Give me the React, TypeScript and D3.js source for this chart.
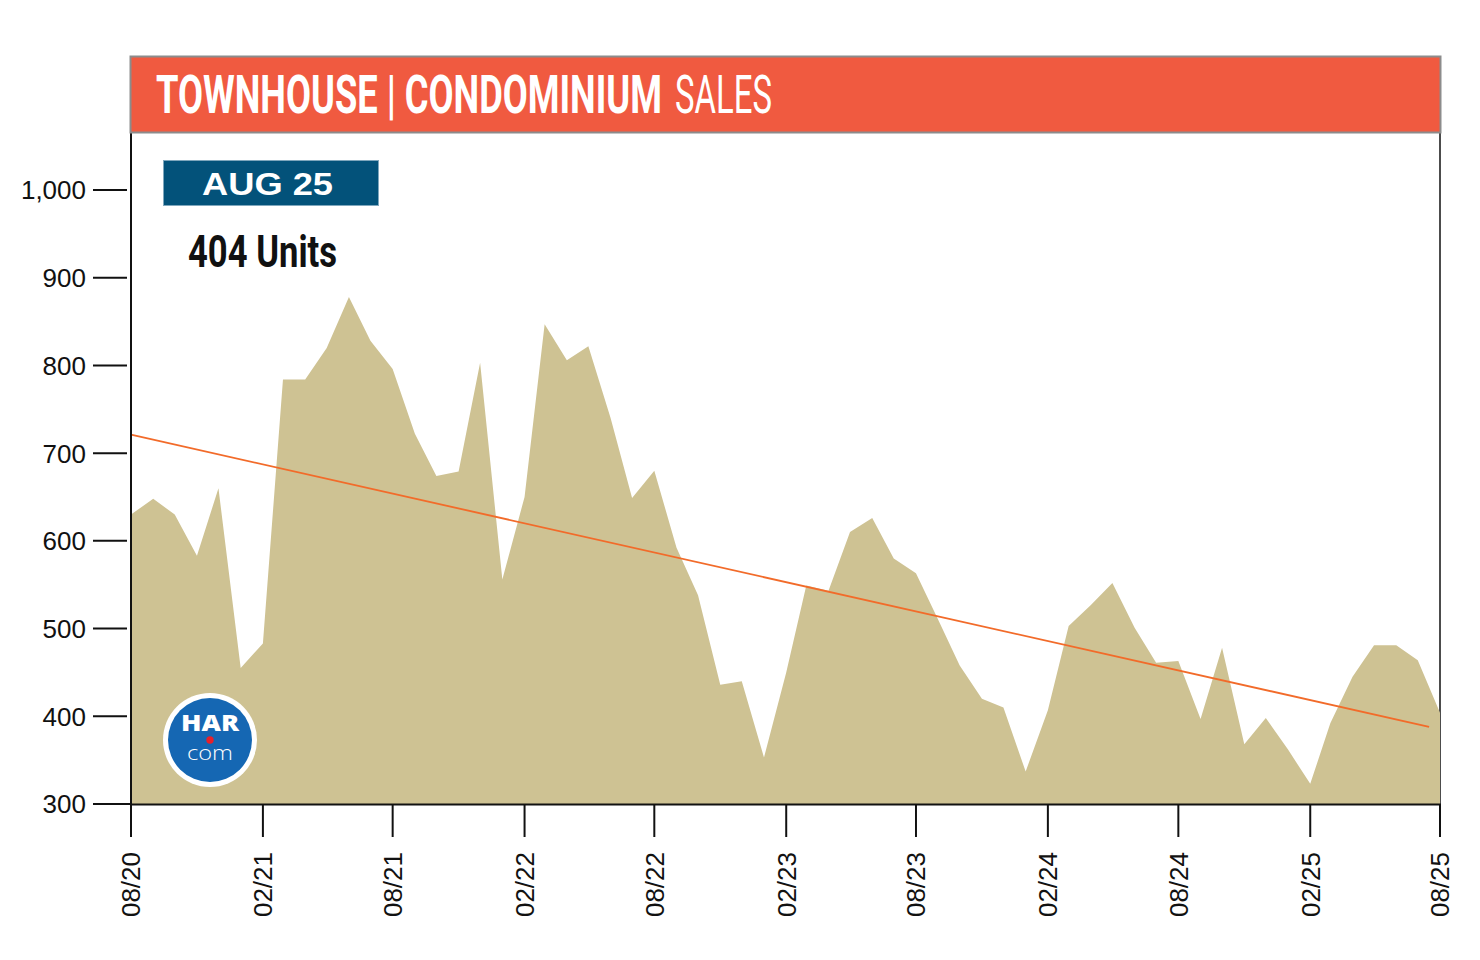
import React, { useLayoutEffect, useRef, useState } from "react";
import * as d3 from "d3";

// ---- data ----
const startMonth = new Date(2020, 7, 1); // Aug 2020
const sales: number[] = [
  630, 648, 630, 583, 660, 455, 483, 784, 784, 820, 878, 828, 796, 722, 674, 679,
  803, 556, 650, 847, 806, 822, 740, 649, 680, 592, 538, 436, 440, 353, 450, 549,
  543, 610, 626, 580, 563, 510, 458, 420, 410, 337, 407, 503, 527, 552, 501, 461,
  463, 397, 478, 368, 398, 362, 323, 392, 445, 481, 481, 464, 404,
];
const trendStartValue = 721;
const trendEndValue = 388;
const trendEndMonthIndex = 59.5;
const yTickValues = [300, 400, 500, 600, 700, 800, 900, 1000];
const xTickEveryMonths = 6;
const titleBold = "TOWNHOUSE | CONDOMINIUM";
const titleLight = "SALES";
const badgeText = "AUG 25";
const unitsText = "404 Units";

const W = 1480;
const H = 960;

type FitProps = {
  x: number;
  y: number;
  width: number;
  fontSize: number;
  fontWeight: number;
  fontFamily: string;
  fill: string;
  children: string;
};

function FitText({ x, y, width, fontSize, fontWeight, fontFamily, fill, children }: FitProps) {
  const ref = useRef<SVGTextElement>(null);
  const [sx, setSx] = useState(0.78);
  useLayoutEffect(() => {
    if (ref.current) {
      const w = ref.current.getComputedTextLength();
      if (w > 0) setSx(width / w);
    }
  }, [width, children]);
  return (
    <g transform={`translate(${x},${y}) scale(${sx},1)`}>
      <text
        ref={ref}
        x={0}
        y={0}
        fontFamily={fontFamily}
        fontWeight={fontWeight}
        fontSize={fontSize}
        fill={fill}
      >
        {children}
      </text>
    </g>
  );
}

export default function App() {
  const dates = sales.map((_, i) => d3.timeMonth.offset(startMonth, i));
  const x = d3
    .scaleTime()
    .domain([dates[0], dates[dates.length - 1]])
    .range([131, 1440]);
  const y = d3.scaleLinear().domain([300, 1000]).range([804, 190]);

  const area = d3
    .area<number>()
    .x((_, i) => x(dates[i]))
    .y0(y(300))
    .y1((d) => y(d))
    .curve(d3.curveLinear);

  const xIdx = d3
    .scaleLinear()
    .domain([0, sales.length - 1])
    .range([131, 1440]);
  const trendLine = d3
    .line<[number, number]>()
    .x((d) => xIdx(d[0]))
    .y((d) => y(d[1]));
  const trendPts: [number, number][] = [
    [0, trendStartValue],
    [trendEndMonthIndex, trendEndValue],
  ];

  const xTicks = dates.filter((_, i) => i % xTickEveryMonths === 0);
  const fmtX = d3.timeFormat("%m/%y");
  const fmtY = d3.format(",");

  const axisFont = "'Liberation Sans', Arial, Helvetica, sans-serif";
  const condFont = "Roboto, 'Liberation Sans', sans-serif";

  return (
    <svg
      width={W}
      height={H}
      viewBox={`0 0 ${W} ${H}`}
      style={{ position: "absolute", left: 0, top: 0, background: "#fff" }}
    >
      <rect x={0} y={0} width={W} height={H} fill="#fff" />

      {/* right border (behind area) */}
      <line x1={1440} x2={1440} y1={133} y2={804} stroke="#111" strokeWidth={1.5} />

      {/* area */}
      <path d={area(sales) || ""} fill="#CEC293" />

      {/* trend line */}
      <path d={trendLine(trendPts) || ""} fill="none" stroke="#F26B2A" strokeWidth={1.8} />

      {/* left axis */}
      <line x1={131} x2={131} y1={133} y2={805} stroke="#111" strokeWidth={2} />
      {/* bottom axis */}
      <line x1={130} x2={1441} y1={804.5} y2={804.5} stroke="#111" strokeWidth={2} />

      {/* y ticks */}
      {yTickValues.map((v) => (
        <g key={v}>
          <line x1={93} x2={v === 300 ? 131 : 127} y1={y(v)} y2={y(v)} stroke="#111" strokeWidth={2} />
          <text
            x={86}
            y={y(v)}
            dy="0.36em"
            textAnchor="end"
            fontFamily={axisFont}
            fontSize={26}
            fill="#111"
          >
            {fmtY(v)}
          </text>
        </g>
      ))}

      {/* x ticks */}
      {xTicks.map((d) => (
        <g key={d.toISOString()}>
          <line x1={x(d)} x2={x(d)} y1={804} y2={837} stroke="#111" strokeWidth={2} />
          <text
            transform={`translate(${x(d)},852) rotate(-90)`}
            dy="0.36em"
            textAnchor="end"
            fontFamily={axisFont}
            fontSize={26}
            fill="#111"
          >
            {fmtX(d)}
          </text>
        </g>
      ))}

      {/* header bar */}
      <rect x={130.5} y={56.5} width={1310} height={76} fill="#F05A40" stroke="#8C8C8C" strokeWidth={2} />
      <FitText x={156} y={113} width={506} fontSize={53} fontWeight={700} fontFamily={condFont} fill="#fff">
        {titleBold}
      </FitText>
      <FitText x={675} y={113} width={97} fontSize={53} fontWeight={400} fontFamily={condFont} fill="#fff">
        {titleLight}
      </FitText>

      {/* badge */}
      <rect x={163.5} y={160.5} width={215} height={45} fill="#03527A" stroke="#7FA7BD" strokeWidth={1} />
      <FitText x={202} y={195} width={131} fontSize={31} fontWeight={700} fontFamily={axisFont} fill="#fff">
        {badgeText}
      </FitText>

      <FitText x={188} y={267} width={149} fontSize={44} fontWeight={700} fontFamily={condFont} fill="#111">
        {unitsText}
      </FitText>

      {/* HAR logo */}
      <g transform="translate(210,740)">
        <circle r={47} fill="#fff" />
        <circle r={42} fill="#1567B3" />
      </g>
      <FitText x={181} y={731} width={58} fontSize={23} fontWeight={800} fontFamily="'Open Sans', Roboto, sans-serif" fill="#fff">
        HAR
      </FitText>
      <circle cx={210} cy={740} r={3.7} fill="#E8202A" />
      <FitText x={187} y={760} width={46} fontSize={20} fontWeight={300} fontFamily="'Open Sans', Roboto, sans-serif" fill="#fff">
        com
      </FitText>
    </svg>
  );
}
